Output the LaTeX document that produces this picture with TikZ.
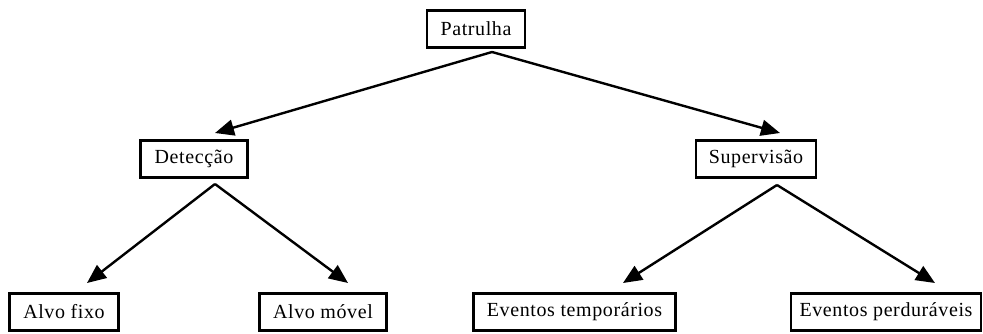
\documentclass[tikz,border=0pt]{standalone}
\usepackage{fontspec}
\setmainfont{Liberation Serif}
\usetikzlibrary{arrows.meta}
\begin{document}
\begin{tikzpicture}[x=1pt,y=-1pt,
  box/.style={draw,line width=2.5pt,minimum height=37pt,inner xsep=6pt,inner ysep=0pt,
    font=\fontsize{20}{24}\selectfont\addfontfeature{LetterSpace=3}},
  conn/.style={line width=2.4pt,-{Triangle[length=19pt,width=16pt]}}]
\useasboundingbox (0,0) rectangle (983,333);
\node[box,minimum width=98pt] (pat) at (476,29) {Patrulha};
\node[box,minimum width=107pt] (det) at (194,159) {Detecção};
\node[box,minimum width=120pt] (sup) at (756,159) {Supervisão};
\node[box,minimum width=109pt] (af) at (64,312) {Alvo fixo};
\node[box,minimum width=127pt] (am) at (323,312) {Alvo móvel};
\node[box,minimum width=202pt] (et) at (574.5,312) {Eventos temporários};
\node[box,minimum width=190pt] (ep) at (886,312) {Eventos perduráveis};
\coordinate (patJ) at (492,52);
\coordinate (detT) at (215,133);
\coordinate (supT) at (780,133);
\coordinate (detJ) at (215,184);
\coordinate (supJ) at (777,185);
\coordinate (afT) at (87,283);
\coordinate (amT) at (348,283);
\coordinate (etT) at (623,283);
\coordinate (epT) at (935,283);
\draw[conn] (patJ) -- (detT);
\draw[conn] (patJ) -- (supT);
\draw[conn] (detJ) -- (afT);
\draw[conn] (detJ) -- (amT);
\draw[conn] (supJ) -- (etT);
\draw[conn] (supJ) -- (epT);
\end{tikzpicture}
\end{document}
